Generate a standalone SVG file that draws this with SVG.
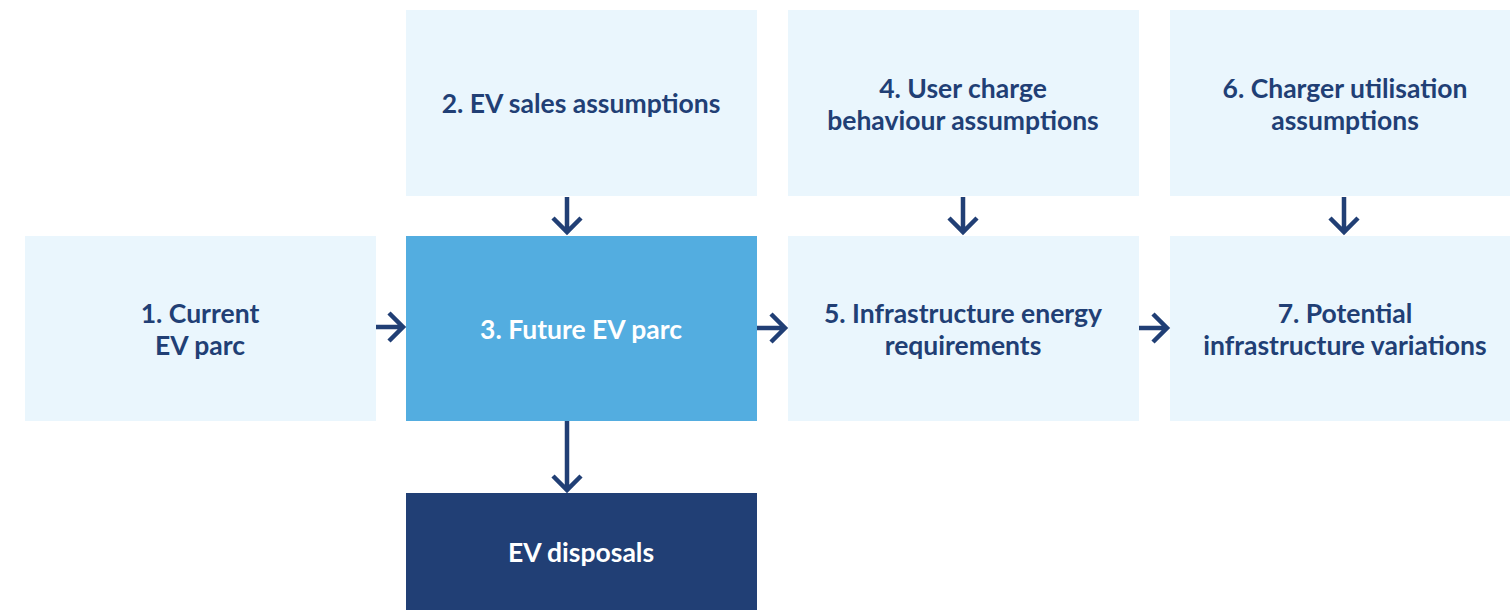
<svg xmlns="http://www.w3.org/2000/svg" width="1510" height="610" viewBox="0 0 1510 610">
<style>
.lb{fill:#eaf6fd}
.t{font-family:Lato,"Liberation Sans",sans-serif;font-weight:700;font-size:26.5px;fill:#213f75;text-anchor:middle}
.w{fill:#ffffff}
.c{stroke:#213f75;stroke-width:4.5;fill:none}
</style>
<rect width="1510" height="610" fill="#ffffff"/>
<g id="n1"><rect class="lb" x="25" y="236" width="351" height="185"/><text class="t" x="200" y="323">1. Current</text><text class="t" x="200" y="355">EV parc</text></g>
<g id="n2"><rect class="lb" x="406" y="10" width="351" height="186"/><text class="t" x="581" y="113">2. EV sales assumptions</text></g>
<g id="n3"><rect fill="#53ade0" x="406" y="236" width="351" height="185"/><text class="t w" x="581" y="339">3. Future EV parc</text></g>
<g id="n4"><rect class="lb" x="788" y="10" width="351" height="186"/><text class="t" x="963" y="98">4. User charge</text><text class="t" x="963" y="130">behaviour assumptions</text></g>
<g id="n5"><rect class="lb" x="788" y="236" width="351" height="185"/><text class="t" x="963" y="323">5. Infrastructure energy</text><text class="t" x="963" y="355">requirements</text></g>
<g id="n6"><rect class="lb" x="1170" y="10" width="351" height="186"/><text class="t" x="1345" y="98">6. Charger utilisation</text><text class="t" x="1345" y="130">assumptions</text></g>
<g id="n7"><rect class="lb" x="1170" y="236" width="351" height="185"/><text class="t" x="1345" y="323">7. Potential</text><text class="t" x="1345" y="355">infrastructure variations</text></g>
<g id="n8"><rect fill="#213f75" x="406" y="493" width="351" height="117"/><text class="t w" x="581" y="562">EV disposals</text></g>
<g id="connectors">
<path class="c" d="M376 327H403M389 313L403 327L389 341"/>
<path class="c" d="M757 328H785M771 314L785 328L771 342"/>
<path class="c" d="M1139 328H1167M1153 314L1167 328L1153 342"/>
<path class="c" d="M567 197V232M553 218L567 232L581 218"/>
<path class="c" d="M963 197V232M949 218L963 232L977 218"/>
<path class="c" d="M1344 197V232M1330 218L1344 232L1358 218"/>
<path class="c" d="M567 421V490M553 476L567 490L581 476"/>
</g>
</svg>
